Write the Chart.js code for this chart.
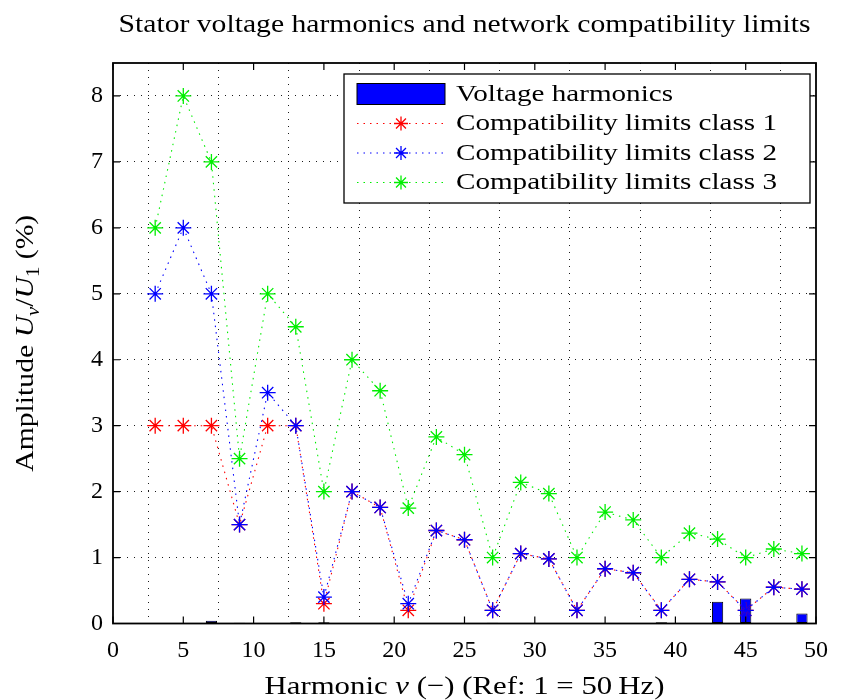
<!DOCTYPE html>
<html><head><meta charset="utf-8">
<script src="https://cdn.jsdelivr.net/npm/chart.js@4/dist/chart.umd.min.js"></script>
<style>html,body{margin:0;padding:0;background:#fff}#wrap{width:841px;height:700px;position:relative}canvas{display:block}</style>
</head><body><div id="wrap"><canvas id="c" width="841" height="700" style="width:841px;height:700px"></canvas></div>
<script>
// ---- data ----
const harmonics = [2,3,4,5,6,7,8,9,10,11,12,13,14,15,16,17,18,19,20,21,22,23,24,25,26,27,28,29,30,31,32,33,34,35,36,37,38,39,40,41,42,43,44,45,46,47,48,49,50];
const voltageHarmonics = [0,0,0,0,0,0.04,0,0.01,0,0,0,0.02,0,0.02,0,0,0,0,0,0,0,0,0,0,0,0.01,0,0,0,0,0,0,0,0,0,0,0,0.02,0,0,0,0.33,0,0.38,0,0,0,0.15,0];
const limitOrders = [3,5,7,9,11,13,15,17,19,21,23,25,27,29,31,33,35,37,39,41,43,45,47,49];
const limitsClass1 = [3,3,3,1.5,3,3,0.3,2,1.76,0.2,1.41,1.27,0.2,1.06,0.98,0.2,0.83,0.77,0.2,0.67,0.63,0.2,0.55,0.52];
const limitsClass2 = [5,6,5,1.5,3.5,3,0.4,2,1.76,0.3,1.41,1.27,0.2,1.06,0.98,0.2,0.83,0.77,0.2,0.67,0.63,0.2,0.55,0.52];
const limitsClass3 = [6,8,7,2.5,5,4.5,2,4,3.53,1.75,2.83,2.56,1,2.14,1.97,1,1.69,1.57,1,1.37,1.28,1,1.13,1.06];
const xTicks = [0,5,10,15,20,25,30,35,40,45,50];
const yTicks = [0,1,2,3,4,5,6,7,8];
const seriesLabels = ['Voltage harmonics','Compatibility limits class 1','Compatibility limits class 2','Compatibility limits class 3'];
const titleText = 'Stator voltage harmonics and network compatibility limits';

const FONT = "'Liberation Serif', 'Times New Roman', Tinos, 'Nimbus Roman', FreeSerif, Times, serif";

function runsWidth(ctx, runs, size) {
  let w = 0;
  for (const r of runs) {
    const s = r.sub ? size * 0.7 : size;
    ctx.font = (r.italic ? 'italic ' : '') + s + 'px ' + FONT;
    w += ctx.measureText(r.t).width;
  }
  return w;
}
function drawRuns(ctx, runs, cx, by, size, targetW, align) {
  const w = runsWidth(ctx, runs, size);
  const sx = targetW ? targetW / w : 1;
  ctx.save();
  ctx.translate(cx, by);
  ctx.scale(sx, 1);
  let x = align === 'left' ? 0 : -w / 2;
  ctx.fillStyle = '#000';
  ctx.textBaseline = 'alphabetic';
  ctx.textAlign = 'left';
  for (const r of runs) {
    const s = r.sub ? size * 0.7 : size;
    ctx.font = (r.italic ? 'italic ' : '') + s + 'px ' + FONT;
    ctx.fillText(r.t, x, r.sub ? size * 0.22 : 0);
    x += ctx.measureText(r.t).width;
  }
  ctx.restore();
}

function drawStar(ctx, x, y, r, color, lw) {
  ctx.save();
  ctx.strokeStyle = color; ctx.lineWidth = lw;
  ctx.beginPath();
  ctx.moveTo(x - r, y); ctx.lineTo(x + r, y);
  ctx.moveTo(x, y - r); ctx.lineTo(x, y + r);
  const d = r * Math.SQRT1_2;
  ctx.moveTo(x - d, y - d); ctx.lineTo(x + d, y + d);
  ctx.moveTo(x - d, y + d); ctx.lineTo(x + d, y - d);
  ctx.stroke();
  ctx.restore();
}

const decor = {
  id: 'decor',
  afterDraw(chart) {
    const ctx = chart.ctx;
    const a = chart.chartArea;
    const xs = chart.scales.x, ys = chart.scales.y;
    // box
    ctx.save();
    ctx.strokeStyle = '#000';
    ctx.lineWidth = 1.8;
    ctx.strokeRect(a.left, a.top, a.right - a.left, a.bottom - a.top);
    // inward ticks
    ctx.lineWidth = 1.2;
    ctx.beginPath();
    const tl = 7;
    for (const v of xTicks) {
      const px = xs.getPixelForValue(v);
      ctx.moveTo(px, a.bottom); ctx.lineTo(px, a.bottom - tl);
      ctx.moveTo(px, a.top); ctx.lineTo(px, a.top + tl);
    }
    for (const v of yTicks) {
      const py = ys.getPixelForValue(v);
      ctx.moveTo(a.left, py); ctx.lineTo(a.left + tl, py);
      ctx.moveTo(a.right, py); ctx.lineTo(a.right - tl, py);
    }
    ctx.stroke();
    ctx.restore();

    // title
    drawRuns(ctx, [{t: titleText}], (a.left + a.right) / 2, 32, 26, 692);
    // x label
    drawRuns(ctx, [{t: 'Harmonic '}, {t: '\u03BD', italic: true}, {t: ' (\u2212) (Ref: 1 = 50\u2009Hz)'}],
      (a.left + a.right) / 2, 694, 26, 400);
    // y label
    ctx.save();
    ctx.translate(33, (a.top + a.bottom) / 2);
    ctx.rotate(-Math.PI / 2);
    drawRuns(ctx, [{t: 'Amplitude '}, {t: 'U', italic: true}, {t: '\u03BD', italic: true, sub: true},
      {t: '/'}, {t: 'U', italic: true}, {t: '1', sub: true}, {t: ' (%)'}], 0, 0, 26, 257);
    ctx.restore();

    // legend
    const L = 344, T = 74, R = 810, B = 203;
    ctx.save();
    ctx.fillStyle = '#fff';
    ctx.fillRect(L, T, R - L, B - T);
    ctx.strokeStyle = '#000'; ctx.lineWidth = 1.3;
    ctx.strokeRect(L, T, R - L, B - T);
    const rows = [94, 123.5, 153, 182.5];
    const ds = chart.data.datasets;
    for (let i = 0; i < ds.length; i++) {
      const d = ds[i];
      const cy = rows[i];
      if (d.type === 'bar' || i === 0) {
        ctx.fillStyle = d.backgroundColor;
        ctx.fillRect(357, cy - 10.5, 88, 21);
        ctx.strokeStyle = '#000'; ctx.lineWidth = 1;
        ctx.strokeRect(357, cy - 10.5, 88, 21);
      } else {
        ctx.save();
        ctx.strokeStyle = d.borderColor; ctx.lineWidth = 1;
        ctx.setLineDash(d.borderDash);
        ctx.beginPath(); ctx.moveTo(357, cy); ctx.lineTo(445, cy); ctx.stroke();
        ctx.restore();
        drawStar(ctx, 401, cy, 7, d.borderColor, 1.3);
      }
      const targetW = i === 0 ? 217 : 321;
      drawRuns(ctx, [{t: d.label}], 456, cy + 6.5, 23, targetW, 'left');
    }
    ctx.restore();
  }
};

const pts = (xs, ys) => xs.map((x, i) => ({x: x, y: ys[i]}));
const lineDash = [1.5, 5];
function lineDs(label, vals, color, order) {
  return {
    type: 'line', label: label, data: pts(limitOrders, vals),
    borderColor: color, backgroundColor: color, borderWidth: 1.1, borderDash: lineDash,
    pointStyle: 'star', pointRadius: 8, pointBorderWidth: 1.3, pointBorderColor: color,
    pointHoverRadius: 8, tension: 0, fill: false, order: order
  };
}

new Chart(document.getElementById('c'), {
  type: 'bar',
  data: {
    datasets: [
      {type: 'bar', label: seriesLabels[0], data: pts(harmonics, voltageHarmonics),
       backgroundColor: '#0000ff', borderColor: '#000', borderWidth: 1, borderSkipped: false,
       barPercentage: 0.8, categoryPercentage: 1, order: 3},
      lineDs(seriesLabels[1], limitsClass1, '#ff0000', 2),
      lineDs(seriesLabels[2], limitsClass2, '#0000ff', 1),
      lineDs(seriesLabels[3], limitsClass3, '#00ee00', 0)
    ]
  },
  options: {
    responsive: false, animation: false, devicePixelRatio: 1,
    layout: {padding: {top: 63, right: 15, left: 0, bottom: 0}},
    plugins: {legend: {display: false}, title: {display: false}, tooltip: {enabled: false}},
    scales: {
      x: {
        type: 'linear', min: 0, max: 50, offset: false,
        afterBuildTicks: s => { s.ticks = xTicks.map(v => ({value: v})); },
        afterFit: s => { s.height = 76.5; },
        ticks: {font: {family: FONT, size: 24}, color: '#000', padding: 13, maxRotation: 0, autoSkip: false},
        grid: {color: '#000', lineWidth: 0.9, drawTicks: false},
        border: {display: false, dash: [1, 6]}
      },
      y: {
        type: 'linear', min: 0, max: 8.5,
        afterBuildTicks: s => { s.ticks = yTicks.map(v => ({value: v})); },
        afterFit: s => { s.width = 113; },
        ticks: {font: {family: FONT, size: 24}, color: '#000', padding: 10, autoSkip: false},
        grid: {color: '#000', lineWidth: 0.9, drawTicks: false},
        border: {display: false, dash: [1, 6]}
      }
    }
  },
  plugins: [decor]
});
</script></body></html>
